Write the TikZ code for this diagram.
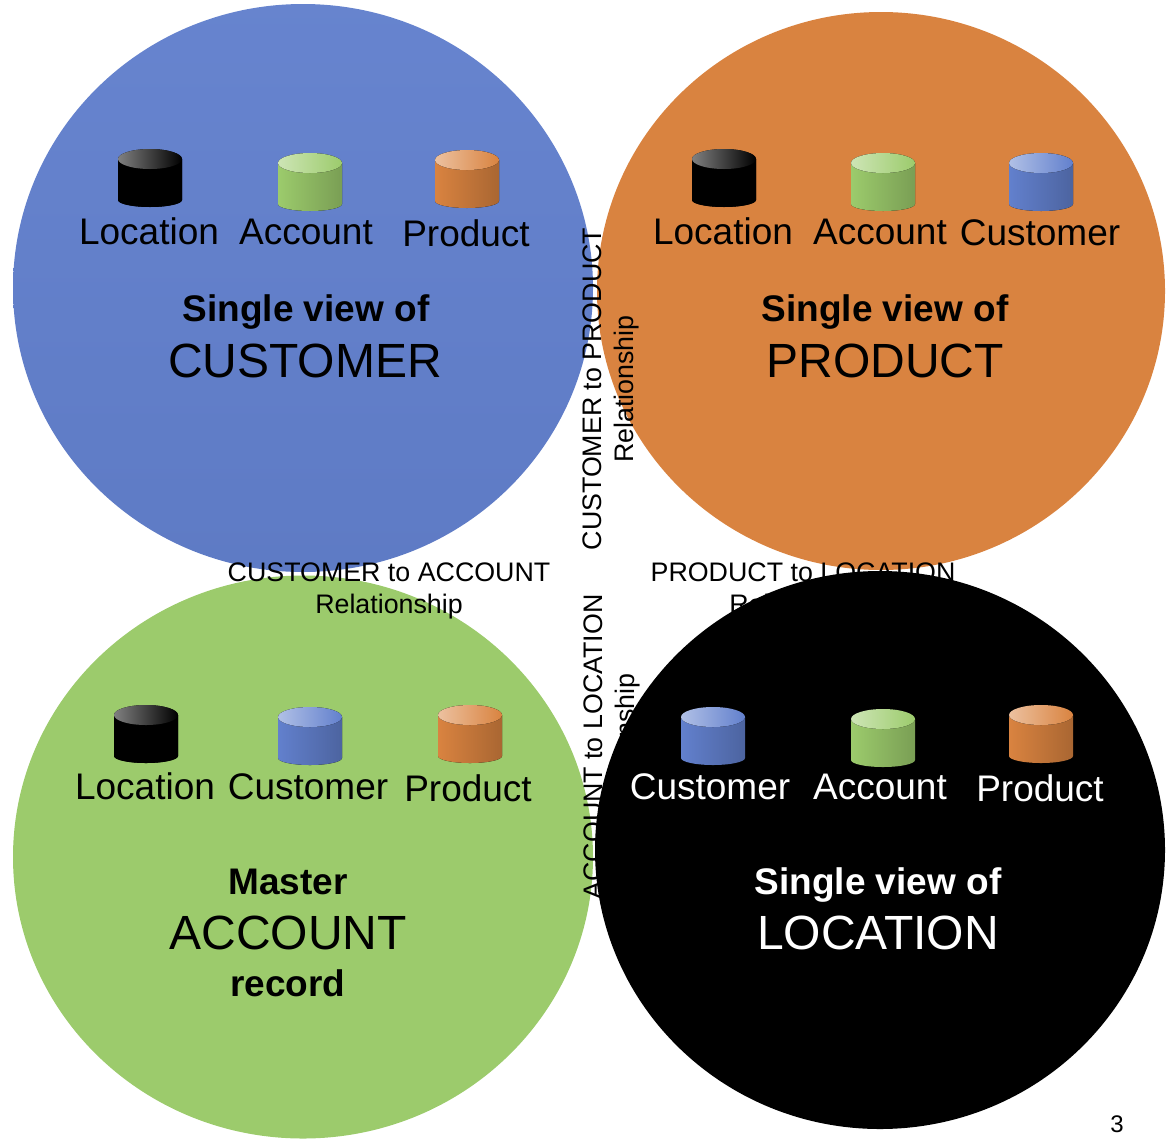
\documentclass[tikz,border=0pt]{standalone}
\usepackage{fontspec}
\setmainfont{Liberation Sans}
\usetikzlibrary{shapes.geometric}

\definecolor{custblue}{RGB}{98,128,205}
\definecolor{prodorange}{RGB}{217,131,64}
\definecolor{acctgreen}{RGB}{156,203,108}
\definecolor{locblack}{RGB}{0,0,0}

\tikzset{
  viewcircle/.style={ellipse,inner sep=0},
  dblabel/.style={anchor=base,inner sep=0,font=\fontsize{37}{40}\selectfont},
  viewhead/.style={anchor=base,inner sep=0,font=\fontsize{37}{40}\selectfont\bfseries},
  viewname/.style={anchor=base,inner sep=0,font=\fontsize{48}{50}\selectfont},
  linklabel/.style={align=center,inner sep=0,font=\fontsize{26.8}{32}\selectfont},
}

% cylinder icon: centre x, top y, colour
\newcommand{\dbicon}[3]{
  \fill[left color=#3,middle color=#3,right color=#3!78!black]
    (#1-32,#2+10) -- (#1-32,#2+51) arc[start angle=180,end angle=0,x radius=32,y radius=7]
    -- (#1+32,#2+10) -- cycle;
  \fill[left color=#3!50!white,middle color=#3,right color=#3]
    (#1,#2+10) ellipse[x radius=32,y radius=10];
}

\begin{document}
\begin{tikzpicture}[x=1pt,y=-1pt]
\useasboundingbox (0,0) rectangle (1166,1138);

\node[viewcircle,minimum width=580,minimum height=568,top color=custblue!97!white,bottom color=custblue!96!black] (custcircle) at (303,288) {};
\node[viewcircle,minimum width=568,minimum height=558,fill=prodorange] (prodcircle) at (881,291) {};
\node[viewcircle,minimum width=580,minimum height=563,fill=acctgreen] (acctcircle) at (303,857) {};

\node[linklabel,rotate=90] (custprod) at (611,389) {CUSTOMER to PRODUCT\\Relationship};
\node[linklabel] (custacct) at (389,591) {CUSTOMER to ACCOUNT\\Relationship};
\node[linklabel] (prodloc) at (803,591) {PRODUCT to LOCATION\\Relationship};
\node[linklabel,rotate=90] (acctloc) at (612,747) {ACCOUNT to LOCATION\\Relationship};

\node[viewcircle,minimum width=570,minimum height=558,fill=locblack] (loccircle) at (880,850) {};

\foreach \cx/\cy/\col in {150/149/locblack, 310/153/acctgreen, 467/150/prodorange,
                          724/149/locblack, 883/153/acctgreen, 1041/153/custblue,
                          146/705/locblack, 310/707/custblue, 470/705/prodorange,
                          713/707/custblue, 883/709/acctgreen, 1041/705/prodorange}
{
  \dbicon{\cx}{\cy}{\col}
}

\foreach \lx/\ly/\txt [count=\s] in {149/244/Location, 306/244/Account, 466/246/Product,
                                     723/244/Location, 880/244/Account, 1040/245/Customer,
                                     145/799/Location, 308/799/Customer, 468/801/Product}
{
  \node[dblabel] (lab\s) at (\lx,\ly) {\txt};
}
\foreach \lx/\ly/\txt [count=\s] in {710/799/Customer, 880/799/Account, 1040/801/Product}
{
  \node[dblabel,text=white] (wlab\s) at (\lx,\ly) {\txt};
}

\node[viewhead] (custhead) at (306,321) {Single view of};
\node[viewname] (custname) at (305,377) {CUSTOMER};
\node[viewhead] (prodhead) at (885,321) {Single view of};
\node[viewname] (prodname) at (885,377) {PRODUCT};
\node[viewhead] (accthead) at (288,894) {Master};
\node[viewname] (acctname) at (288,949) {ACCOUNT};
\node[viewhead] (acctfoot) at (288,996) {record};
\node[viewhead,text=white] (lochead) at (878,894) {Single view of};
\node[viewname,text=white] (locname) at (878,949) {LOCATION};

\node[inner sep=0,font=\fontsize{24}{26}\selectfont] (pagenum) at (1117,1124) {3};

\end{tikzpicture}
\end{document}
